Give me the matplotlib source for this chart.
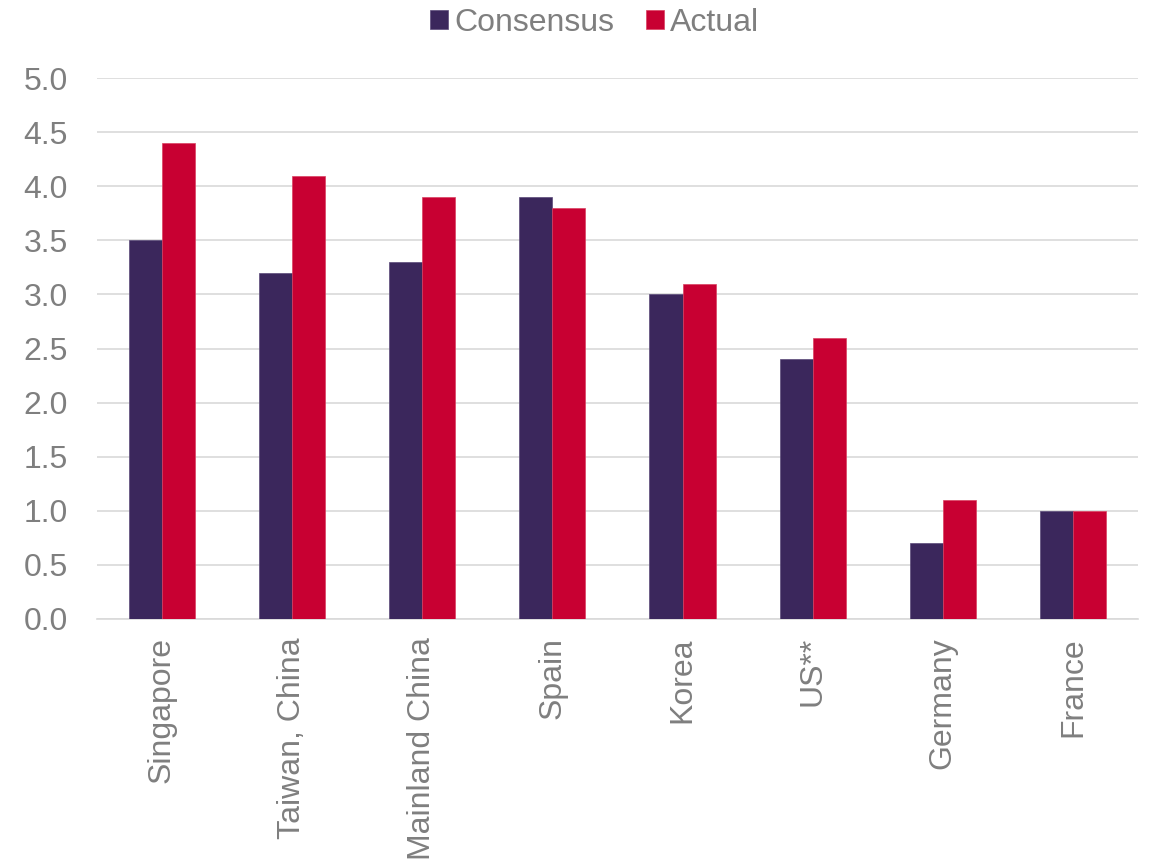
import matplotlib
matplotlib.use("Agg")
import matplotlib.pyplot as plt
import numpy as np

plt.rcParams["font.family"] = ["Liberation Sans", "DejaVu Sans"]

countries = ["Singapore", "Taiwan, China", "Mainland China", "Spain",
             "Korea", "US**", "Germany", "France"]
consensus = [3.5, 3.2, 3.3, 3.9, 3.0, 2.4, 0.7, 1.0]
actual = [4.4, 4.1, 3.9, 3.8, 3.1, 2.6, 1.1, 1.0]

purple = "#3b275c"
red = "#c80032"
grey = "#7f7f7f"

fig = plt.figure(figsize=(11.53, 8.59), dpi=100)
ax = fig.add_axes([0.084, 0.2794, 0.903, 0.6296])

x = np.arange(len(countries))
w = 0.254
ax.bar(x - w / 2, consensus, w, color=purple, label="Consensus",
       edgecolor="#5a4a78", linewidth=0.5, zorder=3)
ax.bar(x + w / 2, actual, w, color=red, label="Actual",
       edgecolor="#d94060", linewidth=0.5, zorder=3)

ax.set_xlim(-0.5, len(countries) - 0.5)
ax.set_ylim(0, 5.0)
yticks = np.arange(0, 5.01, 0.5)
ax.set_yticks(yticks)
ax.set_yticklabels([f"{v:.1f}" for v in yticks])
ax.yaxis.grid(True, color="#d9d9d9", linewidth=1.2, zorder=0)
ax.set_xticks(x)
ax.set_xticklabels(countries, rotation=90)

for s in ["top", "right", "left"]:
    ax.spines[s].set_visible(False)
ax.spines["bottom"].set_color("#d9d9d9")
ax.spines["bottom"].set_linewidth(1.2)
ax.tick_params(axis="both", length=0, labelsize=23, labelcolor=grey)
ax.tick_params(axis="y", pad=21)
ax.tick_params(axis="x", pad=13)

leg = fig.legend(loc="upper center", bbox_to_anchor=(0.516, 1.024), ncol=2,
                 frameon=False, fontsize=23, handlelength=0.55, handleheight=0.55,
                 handletextpad=0.2, columnspacing=1.0)
for t in leg.get_texts():
    t.set_color(grey)

fig.savefig("out.png", dpi=100)
